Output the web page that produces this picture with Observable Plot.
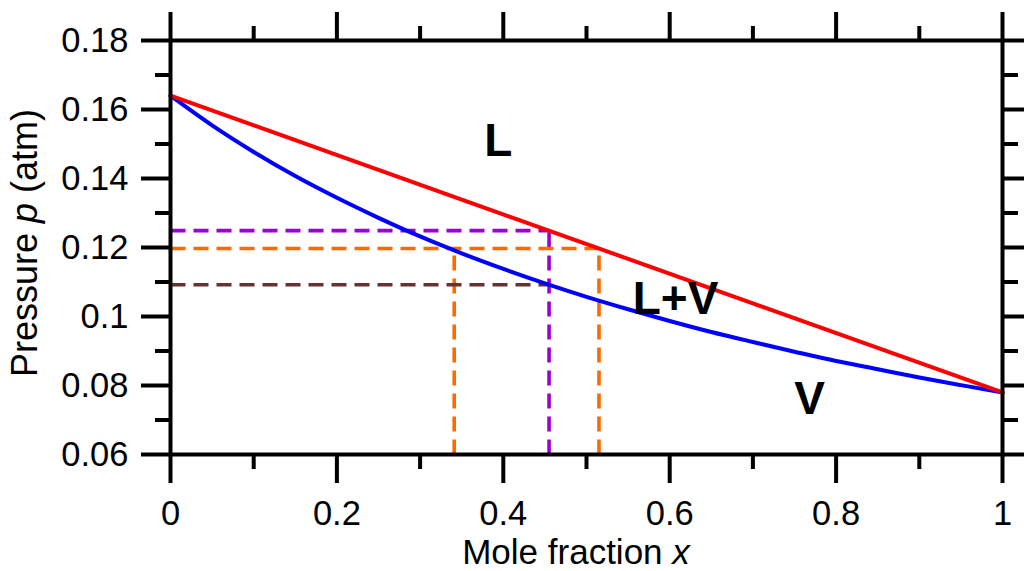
<!DOCTYPE html>
<html>
<head>
<meta charset="utf-8">
<script src="https://cdn.jsdelivr.net/npm/d3@7"></script>
<script src="https://cdn.jsdelivr.net/npm/@observablehq/plot@0.6"></script>
<style>
  html, body { margin: 0; padding: 0; background: #fff; }
  svg { display: block; }
</style>
</head>
<body>
<div id="chart"></div>
<script>
// ---- data ----
const liquidX = [0, 1];
const liquidP = [0.164, 0.078];

const vaporX = [0, 0.05, 0.1, 0.15, 0.2, 0.25, 0.3, 0.35, 0.4, 0.45, 0.5, 0.55, 0.6, 0.65, 0.7, 0.75, 0.8, 0.85, 0.9, 0.95, 1];
const vaporP = [0.1640, 0.1554, 0.1477, 0.1407, 0.1344, 0.1286, 0.1232, 0.1183, 0.1138, 0.1096, 0.1057, 0.1021, 0.0987, 0.0955, 0.0926, 0.0898, 0.0871, 0.0847, 0.0823, 0.0801, 0.0780];

const guideNames = ["purple-h", "purple-v", "orange-h", "orange-v-right", "orange-v-left", "brown-h"];
const guideX1 = [0, 0.455, 0, 0.515, 0.341, 0];
const guideY1 = [0.1249, 0.06, 0.1197, 0.06, 0.06, 0.1092];
const guideX2 = [0.455, 0.455, 0.515, 0.515, 0.341, 0.455];
const guideY2 = [0.1249, 0.1249, 0.1197, 0.1197, 0.1197, 0.1092];

const regionLabels = ["L", "L+V", "V"];
const regionX = [0.394, 0.607, 0.768];
const regionP = [0.1464, 0.1006, 0.0716];

const xMajorTicks = [0, 0.2, 0.4, 0.6, 0.8, 1];
const xMinorTicks = [0.1, 0.3, 0.5, 0.7, 0.9];
const yMajorTicks = [0.06, 0.08, 0.1, 0.12, 0.14, 0.16, 0.18];
const yMinorTicks = [0.07, 0.09, 0.11, 0.13, 0.15, 0.17];
const xTickLabels = ["0", "0.2", "0.4", "0.6", "0.8", "1"];
const yTickLabels = ["0.06", "0.08", "0.1", "0.12", "0.14", "0.16", "0.18"];

// ---- build ----
const liquid = liquidX.map((x, i) => ({x, p: liquidP[i]}));
const vapor = vaporX.map((x, i) => ({x, p: vaporP[i]}));
const guides = guideNames.map((name, i) => ({name, x1: guideX1[i], y1: guideY1[i], x2: guideX2[i], y2: guideY2[i]}));
const guideColor = {"purple-h": "#9b00d3", "purple-v": "#9b00d3", "orange-h": "#ff6a00", "orange-v-right": "#ff6a00", "orange-v-left": "#ff6a00", "brown-h": "#663333"};
const regions = regionLabels.map((t, i) => ({t, x: regionX[i], p: regionP[i]}));

const fmtX = d => xTickLabels[xMajorTicks.indexOf(d)];
const fmtY = d => yTickLabels[yMajorTicks.findIndex(v => Math.abs(v - d) < 1e-9)];
const blank = () => "";

const MAJ = 29, MIN = 15, SW = 4, FS = 34.5;

const chart = Plot.plot({
  width: 1024,
  height: 571,
  marginLeft: 170,
  marginRight: 22,
  marginTop: 40,
  marginBottom: 117,
  x: {domain: [0, 1]},
  y: {domain: [0.06, 0.18]},
  style: {fontFamily: "'Liberation Sans', Arial, sans-serif", background: "#fff", color: "#000"},
  marks: [
    Plot.link(guides, {
      x1: "x1", y1: "y1", x2: "x2", y2: "y2",
      stroke: d => guideColor[d.name],
      strokeWidth: 3.6,
      strokeDasharray: "15,8"
    }),
    Plot.line(vapor, {x: "x", y: "p", stroke: "#0000ff", strokeWidth: 4, curve: "monotone-x"}),
    Plot.line(liquid, {x: "x", y: "p", stroke: "#ff0000", strokeWidth: 4}),
    Plot.text(regions, {x: "x", y: "p", text: "t", fontSize: 46, fontWeight: "bold", textAnchor: "middle", lineAnchor: "bottom", fill: "#000"}),
    Plot.frame({stroke: "#000", strokeWidth: SW}),
    // left
    Plot.axisY({anchor: "left", ticks: yMajorTicks, tickSize: MAJ, tickPadding: 13, fontSize: FS, strokeWidth: SW, tickFormat: fmtY, label: null}),
    Plot.axisY({anchor: "left", ticks: yMinorTicks, tickSize: MIN, strokeWidth: SW, tickFormat: blank, label: null}),
    // right
    Plot.axisY({anchor: "right", ticks: yMajorTicks, tickSize: MAJ, strokeWidth: SW, tickFormat: blank, label: null}),
    Plot.axisY({anchor: "right", ticks: yMinorTicks, tickSize: MIN, strokeWidth: SW, tickFormat: blank, label: null}),
    // bottom
    Plot.axisX({anchor: "bottom", ticks: xMajorTicks, tickSize: MAJ, tickPadding: 17, fontSize: FS, strokeWidth: SW, tickFormat: fmtX, label: null}),
    Plot.axisX({anchor: "bottom", ticks: xMinorTicks, tickSize: MIN, strokeWidth: SW, tickFormat: blank, label: null}),
    // top
    Plot.axisX({anchor: "top", ticks: xMajorTicks, tickSize: MAJ, strokeWidth: SW, tickFormat: blank, label: null}),
    Plot.axisX({anchor: "top", ticks: xMinorTicks, tickSize: MIN, strokeWidth: SW, tickFormat: blank, label: null})
  ]
});

document.getElementById("chart").appendChild(chart);

// axis titles with italic variable names
const svg = d3.select(chart);
const xt = svg.append("text")
  .attr("x", 576).attr("y", 564)
  .attr("text-anchor", "middle")
  .attr("font-size", 35)
  .attr("fill", "#000");
xt.append("tspan").text("Mole fraction ");
xt.append("tspan").attr("font-style", "italic").text("x");

const yt = svg.append("text")
  .attr("transform", "translate(37,243) rotate(-90)")
  .attr("text-anchor", "middle")
  .attr("font-size", 36)
  .attr("fill", "#000");
yt.append("tspan").text("Pressure ");
yt.append("tspan").attr("font-style", "italic").text("p");
yt.append("tspan").text(" (atm)");
</script>
</body>
</html>
